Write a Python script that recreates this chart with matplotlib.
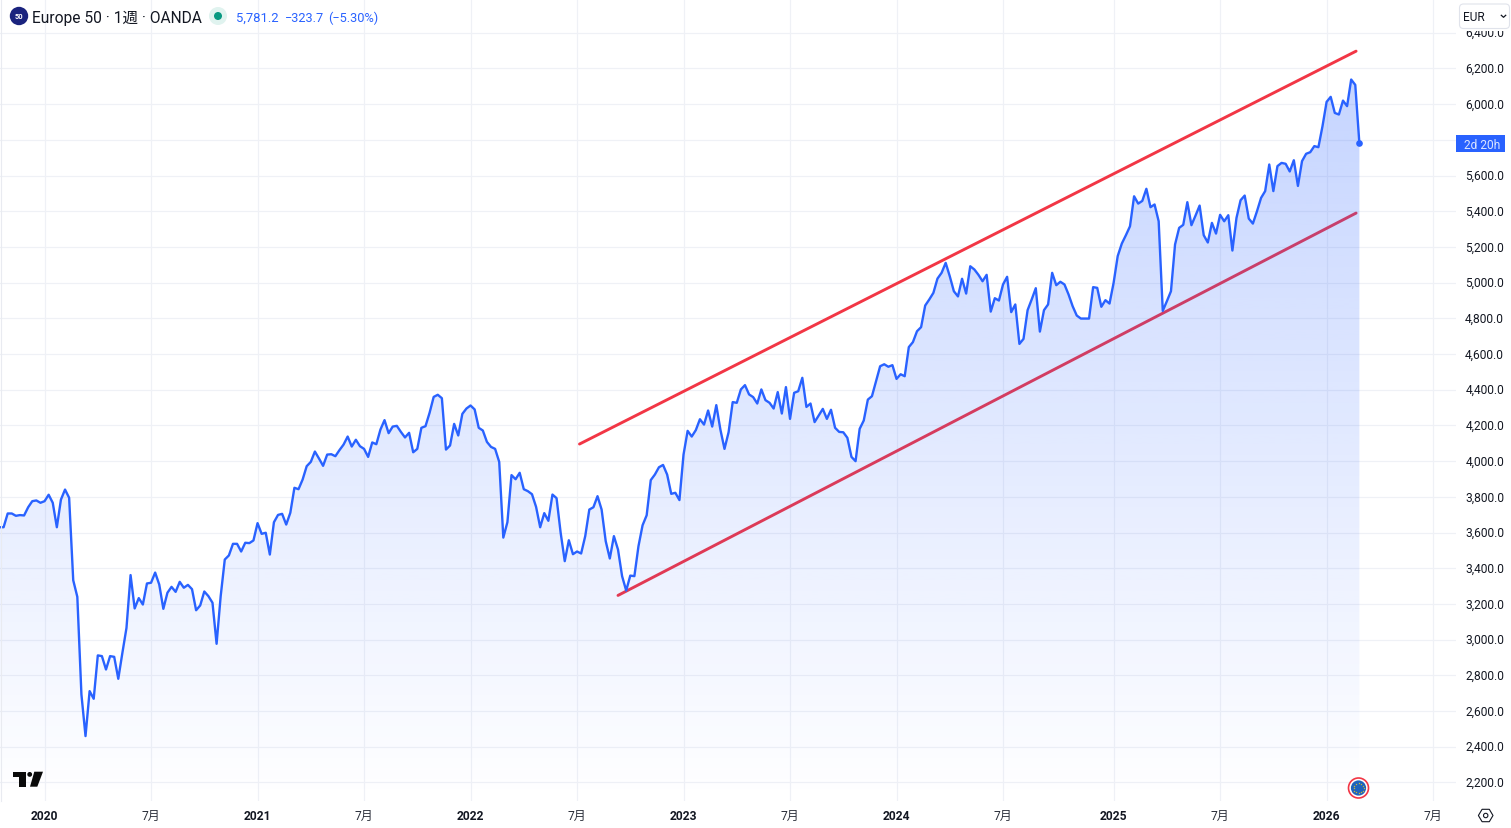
import numpy as np
import pandas as pd
import matplotlib
matplotlib.use("Agg")
import matplotlib.pyplot as plt
from matplotlib.path import Path
from matplotlib.patches import PathPatch, Circle, Polygon, FancyBboxPatch, Rectangle
from matplotlib.transforms import ScaledTranslation

plt.rcParams['font.family'] = ['Roboto', 'Noto Sans CJK JP', 'DejaVu Sans']

START_DATE = "2019-10-21"
prices = [
 3630,3630,3707,3707,3694,3698,3696,3742,3776,3780,3767,3776,3812,3767,3630,3785,3841,3795,3333,3240,
 2693,2460,2712,2669,2912,2908,2833,2908,2904,2781,2926,3066,3362,3175,3233,3197,3315,3319,3376,3309,
 3173,3263,3296,3268,3324,3291,3307,3283,3165,3192,3270,3244,3207,2977,3244,3449,3472,3537,3537,3494,
 3543,3541,3556,3653,3593,3599,3477,3658,3699,3705,3645,3711,3851,3843,
 3897,3972,3996,4054,4015,3974,4037,4039,4028,4062,4093,4138,4082,4120,4084,4069,4024,4105,4095,4177,
 4230,4157,4194,4198,4164,4133,4159,4050,4069,4187,4196,4271,4360,4372,4353,4065,4088,4209,4144,4265,
 4295,4312,4290,4187,4172,4108,4080,4069,3996,3572,3658,3922,3899,3935,3843,3832,3815,3744,3630,3709,
 3666,3813,3793,3599,3440,3557,3479,3494,3483,
 3580,3729,3742,3804,3729,3552,3455,3580,3505,3356,3275,3359,3356,3524,3641,3697,3894,3925,3966,3979,
 3925,3817,3823,3782,4037,4170,4138,4174,4235,4205,4284,4194,4314,4177,4069,4162,4331,4327,4402,4426,
 4374,4359,4323,4402,4342,4327,4295,4387,4267,4415,4237,4383,4392,4467,4304,4323,4219,4256,4293,4237,
 4288,4187,4164,4162,4131,4024,4000,4181,4228,4345,4364,
 4448,4532,4543,4529,4538,4461,4487,4476,4639,4667,4728,4751,4872,4906,4943,5023,5055,5111,5036,4952,
 4923,5022,4939,5092,5074,5044,5008,5044,4838,4913,4900,4990,5033,4835,4878,4657,4685,4846,4906,4969,
 4726,4846,4878,5055,4986,5005,4990,4934,4868,4816,4799,4799,4799,4975,4971,4865,4902,4883,4999,5149,
 5219,5266,5316,5484,5443,5458,5526,5423,5438,5344,4842,4896,4952,5214,5307,5324,5451,5322,5376,5432,
 5266,5225,5335,5275,5380,5344,5378,5180,5363,5462,5488,5359,5331,5400,5475,5513,5662,5513,5653,5671,
 5666,5623,5686,5542,5681,5722,5731,5765,5759,5877,6013,6041,5951,5942,6020,5989,6138,6108,5781.2,
]
upper_trend_x = [141.6, 331.2]
upper_trend_y = [4096, 6297]
lower_trend_x = [151.0, 331.2]
lower_trend_y = [3248, 5390]
price_ticks = list(range(2200, 6600, 200))
tick_months = pd.date_range("2020-01-01", "2026-07-31", freq="WOM-1MON")
tick_months = tick_months[tick_months.month.isin([1, 7])]
last_price_text = "5,781.2"
change_text = "\u2212323.7"
pct_text = "(\u22125.30%)"
title_text = "Europe 50 \u00b7 1\u9031 \u00b7 OANDA"

W, H = 1511, 829
BAR = 4.096
X0 = -0.5
AX_R = 1456
AX_B = 802
P_PER_PX = 5.602
Y2200 = 783.5

BLUE = "#2962ff"
RED = "#f23645"
TXT = "#131722"

fig = plt.figure(figsize=(W/100, H/100), dpi=100, facecolor="white")
ax = fig.add_axes([0, 1-AX_B/H, AX_R/W, AX_B/H])
ax.set_facecolor("white")
x = np.arange(len(prices))
y = np.array(prices, dtype=float)

ymin = 2200-(AX_B-Y2200)*P_PER_PX
ymax = 2200+Y2200*P_PER_PX
xlim = ((0-X0)/BAR, (AX_R-X0)/BAR)

# grid / ticks
start = pd.Timestamp(START_DATE)
tick_idx = [(d-start).days/7 for d in tick_months]
tick_lab = [str(d.year) if d.month == 1 else "7\u6708" for d in tick_months]
ax.set_xticks(tick_idx)
ax.set_xticklabels(tick_lab)
ax.set_yticks(price_ticks)
ax.set_yticklabels([f"{v:,.1f}" for v in price_ticks])
ax.yaxis.tick_right()
ax.tick_params(axis='both', length=0, labelsize=8.64, labelcolor=TXT)
ax.tick_params(axis='y', pad=34.6)
ax.tick_params(axis='x', pad=6.0)
up = ScaledTranslation(0, 1.6/72*0.72*100/100, fig.dpi_scale_trans)
for t in ax.get_yticklabels():
    t.set_ha('right')
    t.set_transform(t.get_transform() + ScaledTranslation(0, 1.6/100, fig.dpi_scale_trans))
for t, d in zip(ax.get_xticklabels(), tick_months):
    if d.month == 1:
        t.set_fontweight('bold')
    else:
        t.set_color("#2a2e39")
ax.grid(True, color="#eff1f6", lw=0.85, zorder=0)
ax.set_axisbelow(True)
for s in ax.spines.values():
    s.set_visible(False)

# trend lines (under the area)
ax.plot(upper_trend_x, upper_trend_y, color=RED, lw=2.1, zorder=2, solid_capstyle='round')
ax.plot(lower_trend_x, lower_trend_y, color=RED, lw=2.1, zorder=2, solid_capstyle='round')

# gradient area
N = 256
grad = np.zeros((N, 1, 4))
grad[..., 0] = 0x29/255
grad[..., 1] = 0x62/255
grad[..., 2] = 1.0
grad[:, 0, 3] = np.linspace(0.27, 0.0, N)
im = ax.imshow(grad, extent=[x[0], x[-1], ymin, y.max()], origin='upper',
               aspect='auto', interpolation='bilinear', zorder=3)
verts = [(x[0], ymin)] + list(zip(x, y)) + [(x[-1], ymin), (x[0], ymin)]
clip = PathPatch(Path(verts), transform=ax.transData, fc='none', ec='none')
ax.add_patch(clip)
im.set_clip_path(clip)
ax.set_xlim(*xlim)
ax.set_ylim(ymin, ymax)

ax.plot(x, y, color=BLUE, lw=1.7, zorder=4, solid_joinstyle='round')
ax.plot(x[-1], y[-1], 'o', color=BLUE, ms=4.8, mew=0, zorder=5, clip_on=False)

# overlay in pixel coordinates
ov = fig.add_axes([0, 0, 1, 1], zorder=10)
ov.set_xlim(0, W)
ov.set_ylim(H, 0)
ov.axis('off')
ov.patch.set_alpha(0)

ov.plot([0.7, 0.7], [0, AX_B], color="#e9ebf1", lw=0.8)

# legend
ov.add_patch(Circle((19, 17), 9.2, fc="#1a237e", ec='none'))
ov.text(19, 17, "50", color='white', fontsize=5.4, fontweight='bold', ha='center', va='center')
ov.text(32, 18, title_text, color=TXT, fontsize=11.2, va='center', ha='left')
ov.add_patch(Circle((218, 17), 9, fc="#e0f3ef", ec='none'))
ov.add_patch(Circle((218, 17), 4, fc="#089981", ec='none'))
ov.text(236, 18, last_price_text, color=BLUE, fontsize=9.4, va='center', ha='left')
ov.text(285, 18, change_text, color=BLUE, fontsize=9.2, va='center', ha='left')
ov.text(328.5, 18, pct_text, color=BLUE, fontsize=9.2, va='center', ha='left')

# currency button (covers the top of the price scale)
ov.add_patch(Rectangle((1456, 0), 55, 32, fc='white', ec='none'))
ov.add_patch(FancyBboxPatch((1459.5, 5), 50, 24.5, boxstyle="round,pad=0,rounding_size=4",
                            fc='white', ec="#e0e3eb", lw=0.8))
ov.text(1463, 17.5, "EUR", color=TXT, fontsize=8.6, va='center', ha='left')
ov.plot([1501.3, 1503.5, 1505.7], [16.3, 18.3, 16.3], color=TXT, lw=0.9)

# countdown
ov.add_patch(Rectangle((1456, 136), 49, 17, fc=BLUE, ec='none'))
ov.text(1482, 145, "2d 20h", color="#dbe5ff", fontsize=8.64, va='center', ha='center')

# logo
ov.add_patch(Polygon([(12.7, 772.7), (26, 772.7), (26, 787.7), (19.3, 787.7), (19.3, 778.3), (12.7, 778.3)],
                     closed=True, fc='#0a0a0a', ec='none'))
ov.add_patch(Circle((29.7, 775.4), 2.4, fc='#0a0a0a', ec='none'))
ov.add_patch(Polygon([(34.3, 772.7), (43, 772.7), (37.3, 787.7), (30, 787.7)], closed=True, fc='#0a0a0a', ec='none'))

# flag
ov.add_patch(Circle((1358.5, 789), 10, fc='white', ec=RED, lw=1.2))
ov.add_patch(Circle((1358.5, 789), 7.6, fc="#1f63bd", ec='none'))
ang = np.linspace(0, 2*np.pi, 12, endpoint=False)
ov.plot(1358.5+5*np.cos(ang), 789+5*np.sin(ang), 's', color="#c9b53a", ms=0.9, mew=0)

# settings
cx, cy = 1485.7, 816.5
hexv = [(cx-7.3, cy), (cx-3.6, cy-6.2), (cx+3.6, cy-6.2), (cx+7.3, cy), (cx+3.6, cy+6.2), (cx-3.6, cy+6.2)]
ov.add_patch(Polygon(hexv, closed=True, fc='none', ec=TXT, lw=0.8))
ov.add_patch(Circle((cx, cy), 2.2, fc='none', ec=TXT, lw=0.8))

fig.savefig("out.png", dpi=100, facecolor="white")
